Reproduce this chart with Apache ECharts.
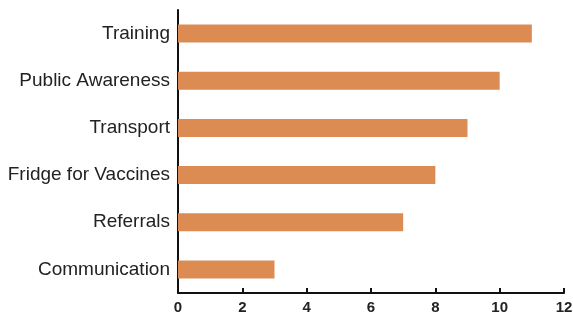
<!DOCTYPE html>
<html>
<head>
<meta charset="utf-8">
<script src="https://cdn.jsdelivr.net/npm/echarts@6/dist/echarts.min.js"></script>
<style>
  html, body { margin: 0; padding: 0; background: #fff; }
  #chart { width: 573px; height: 318px; }
</style>
</head>
<body>
<div id="chart"></div>
<script>
// data, bottom to top (category axis starts at the bottom)
const categories = ['Communication', 'Referrals', 'Fridge for Vaccines', 'Transport', 'Public Awareness', 'Training'];
const values = [3, 7, 8, 9, 10, 11];

const chart = echarts.init(document.getElementById('chart'));

const option = {
  animation: false,
  grid: { left: 178, right: 9, top: 10, bottom: 25, outerBoundsMode: 'none', containLabel: false },
  xAxis: {
    type: 'value',
    min: 0,
    max: 12,
    interval: 2,
    axisLine: { show: true, lineStyle: { color: '#111', width: 2 } },
    axisTick: { show: true, inside: true, length: 5, lineStyle: { color: '#111', width: 2 } },
    splitLine: { show: false },
    axisLabel: {
      margin: 7,
      color: '#222',
      fontFamily: 'Liberation Sans Narrow, Arial Narrow, Liberation Sans, sans-serif',
      fontWeight: 'bold',
      fontSize: 15
    }
  },
  yAxis: {
    type: 'category',
    data: categories,
    axisLine: { show: true, lineStyle: { color: '#111', width: 2 } },
    axisTick: { show: false },
    axisLabel: {
      margin: 8,
      color: '#222',
      fontFamily: 'Liberation Sans Narrow, Arial Narrow, Liberation Sans, sans-serif',
      fontSize: 19
    }
  },
  series: [{
    type: 'bar',
    data: values,
    barWidth: 18,
    itemStyle: { color: '#DC8B53' }
  }]
};

chart.setOption(option);
</script>
</body>
</html>
